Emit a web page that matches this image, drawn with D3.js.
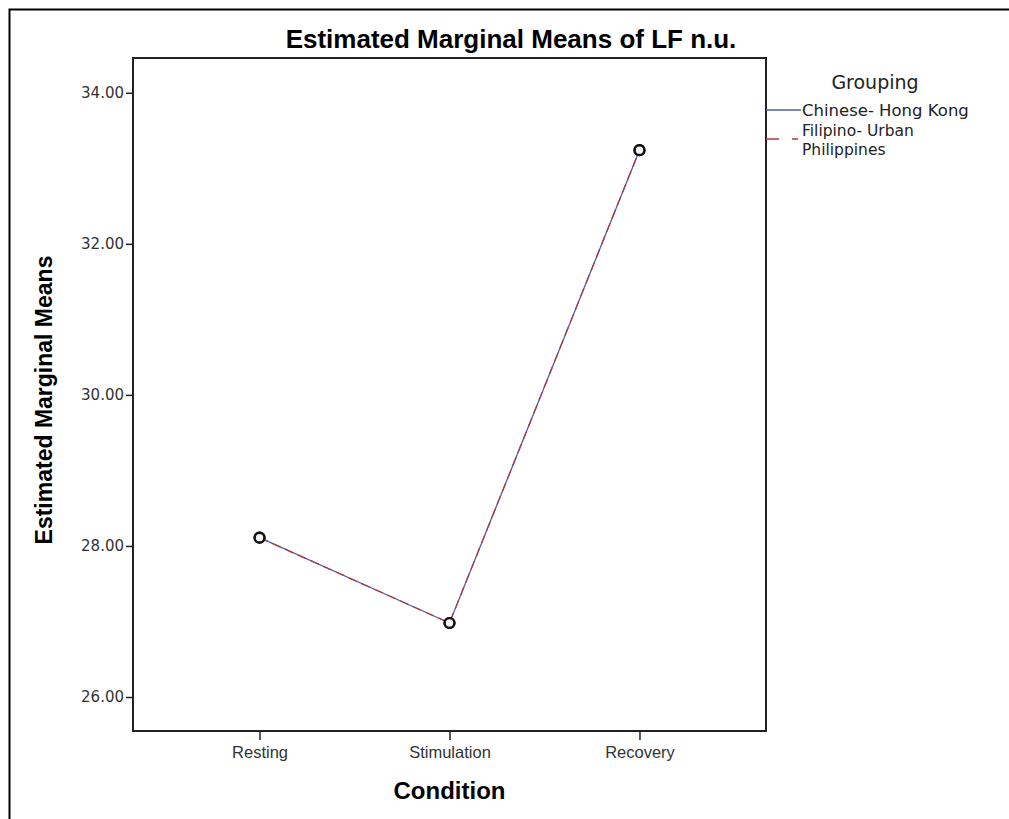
<!DOCTYPE html>
<html>
<head>
<meta charset="utf-8">
<script src="https://cdn.jsdelivr.net/npm/d3@7"></script>
<style>
  body { margin: 0; background: #fff; }
  svg { display: block; }
</style>
</head>
<body>
<div id="chart"></div>
<script>
// data
var conditions = ["Resting", "Stimulation", "Recovery"];
var groups = ["Chinese- Hong Kong", "Filipino- Urban Philippines"];
var chineseHK = [28.11, 26.98, 33.24];
var filipinoUrban = [28.11, 26.98, 33.24];
var yTicks = [26, 28, 30, 32, 34];

var W = 1009, H = 819;
var box = {left: 133, top: 58, right: 766, bottom: 731};

var svg = d3.select("#chart").append("svg")
    .attr("width", W)
    .attr("height", H);

// outer frame
svg.append("path")
    .attr("d", "M9.5," + H + "V9.5H" + W)
    .attr("fill", "none")
    .attr("stroke", "#000")
    .attr("stroke-width", 2);

var x = d3.scalePoint()
    .domain(conditions)
    .range([box.left, box.right])
    .padding(0.666);

var y = d3.scaleLinear()
    .domain([25.55, 34.46])
    .range([box.bottom, box.top]);

// plot box
svg.append("rect")
    .attr("x", box.left)
    .attr("y", box.top)
    .attr("width", box.right - box.left)
    .attr("height", box.bottom - box.top)
    .attr("fill", "none")
    .attr("stroke", "#222")
    .attr("stroke-width", 2);

// y axis
var yAxis = svg.append("g")
    .attr("transform", "translate(" + box.left + ",0)")
    .call(d3.axisLeft(y).tickValues(yTicks).tickFormat(d3.format(".2f")).tickSize(7).tickPadding(2));
yAxis.select(".domain").remove();
yAxis.selectAll("line").attr("stroke", "#222").attr("stroke-width", 1.5);
yAxis.selectAll("text")
    .attr("font-family", "DejaVu Sans, sans-serif")
    .attr("font-size", 15)
    .attr("fill", "#333");

// x axis
var xAxis = svg.append("g")
    .attr("transform", "translate(0," + box.bottom + ")")
    .call(d3.axisBottom(x).tickSize(9).tickPadding(6));
xAxis.select(".domain").remove();
xAxis.selectAll("line").attr("stroke", "#222").attr("stroke-width", 1.5);
xAxis.selectAll("text")
    .attr("font-family", "Liberation Sans, Arial, sans-serif")
    .attr("font-size", 16.5)
    .attr("fill", "#333");

// titles
svg.append("text")
    .attr("x", 511)
    .attr("y", 48)
    .attr("text-anchor", "middle")
    .attr("font-family", "Liberation Sans, Arial, sans-serif")
    .attr("font-weight", "bold")
    .attr("font-size", 26)
    .text("Estimated Marginal Means of LF n.u.");

svg.append("text")
    .attr("x", (box.left + box.right) / 2)
    .attr("y", 799)
    .attr("text-anchor", "middle")
    .attr("font-family", "Liberation Sans, Arial, sans-serif")
    .attr("font-weight", "bold")
    .attr("font-size", 24)
    .text("Condition");

svg.append("text")
    .attr("transform", "translate(52," + 400 + ") rotate(-90)")
    .attr("text-anchor", "middle")
    .attr("font-family", "Liberation Sans, Arial, sans-serif")
    .attr("font-weight", "bold")
    .attr("font-size", 23)
    .text("Estimated Marginal Means");

// lines
var series = [
  {name: groups[0], values: chineseHK, color: "#4a5fb0", dash: null},
  {name: groups[1], values: filipinoUrban, color: "#b03a3a", dash: "9,5"}
];

var line = d3.line()
    .x(function(d, i) { return x(conditions[i]); })
    .y(function(d) { return y(d); });

series.forEach(function(s) {
  svg.append("path")
      .datum(s.values)
      .attr("d", line)
      .attr("fill", "none")
      .attr("stroke", s.color)
      .attr("stroke-width", 1.3)
      .attr("stroke-dasharray", s.dash);
});

// markers
var marker = d3.symbol().type(d3.symbolCircle).size(75);
series.forEach(function(s) {
  svg.append("g").selectAll("path")
      .data(s.values)
      .enter()
      .append("path")
      .attr("d", marker)
      .attr("transform", function(d, i) { return "translate(" + x(conditions[i]) + "," + y(d) + ")"; })
      .attr("fill", "#f4f4f4")
      .attr("stroke", "#111")
      .attr("stroke-width", 2.4);
});

// legend
var lg = svg.append("g")
    .attr("font-family", "DejaVu Sans, sans-serif")
    .attr("fill", "#222");
lg.append("text")
    .attr("x", 875)
    .attr("y", 89)
    .attr("text-anchor", "middle")
    .attr("font-size", 19)
    .text("Grouping");

lg.append("line")
    .attr("x1", 766).attr("x2", 801)
    .attr("y1", 110).attr("y2", 110)
    .attr("stroke", series[0].color)
    .attr("stroke-width", 1.3);
lg.append("text")
    .attr("x", 802)
    .attr("y", 116)
    .attr("font-size", 16.5)
    .text(groups[0]);

lg.append("line")
    .attr("x1", 766).attr("x2", 798)
    .attr("y1", 139).attr("y2", 139)
    .attr("stroke", series[1].color)
    .attr("stroke-width", 1.3)
    .attr("stroke-dasharray", "13,13");
lg.append("text")
    .attr("x", 802)
    .attr("y", 136)
    .attr("font-size", 15.5)
    .text("Filipino- Urban");
lg.append("text")
    .attr("x", 802)
    .attr("y", 155)
    .attr("font-size", 15.5)
    .text("Philippines");
</script>
</body>
</html>
